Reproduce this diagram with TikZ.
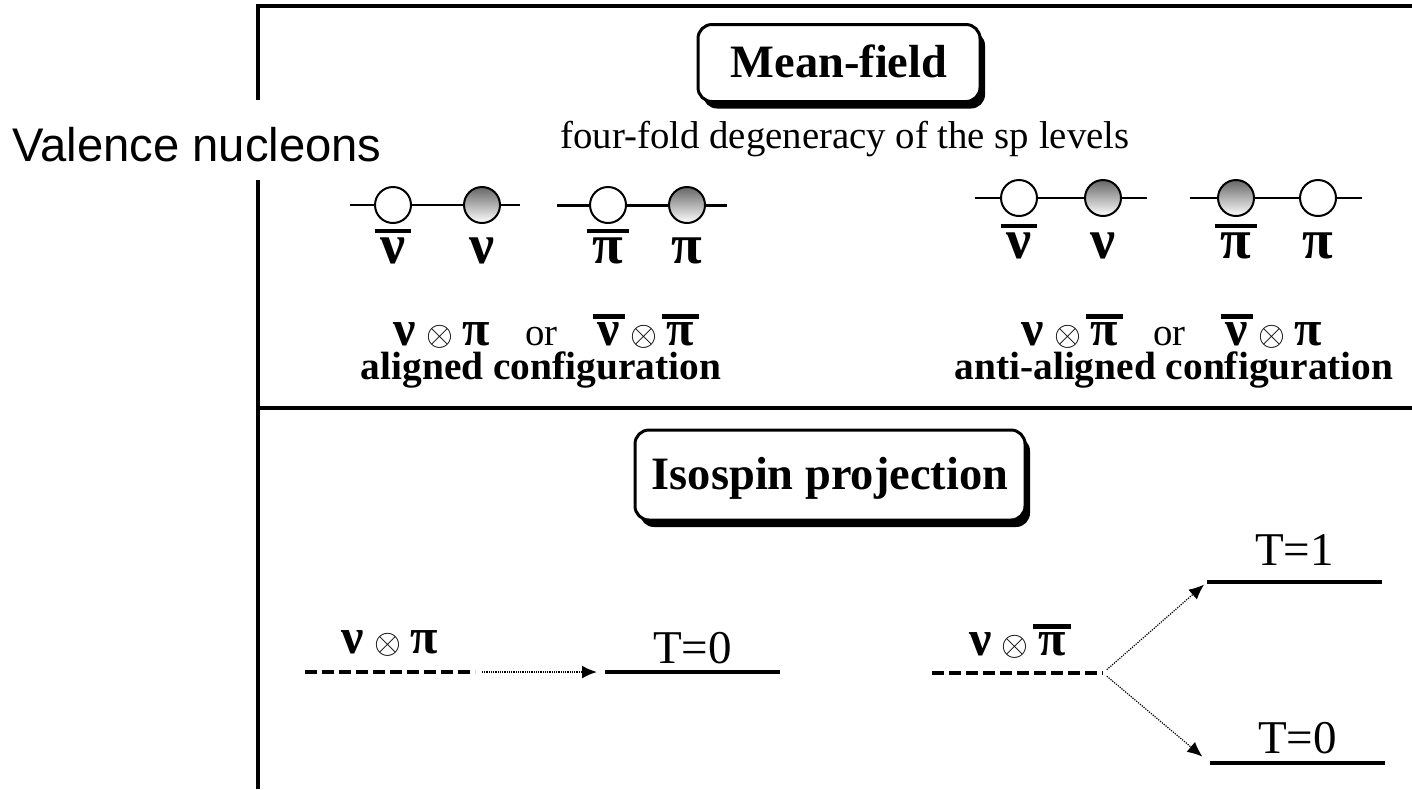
\documentclass[tikz,border=0pt]{standalone}
\usepackage{fontspec}
\setmainfont{Liberation Serif}
\newfontfamily\labelsans{Liberation Sans}
\usetikzlibrary{positioning, arrows.meta, shadows}

\newcommand{\nuch}{\textbf{ν}}
\newcommand{\pich}{\textbf{π}}
\newcommand{\ox}{{\fontsize{19}{22}\selectfont$\otimes$}}
\newcommand{\anti}[1]{\setbox0=\hbox{#1}\leavevmode\rlap{\kern-0.1em\raisebox{\dimexpr\ht0+0.07em\relax}{\rule{\dimexpr\wd0+0.2em\relax}{0.085em}}}\box0}

\tikzset{
  frame/.style={line width=2pt},
  headbox/.style={draw, line width=1.5pt, rounded corners=7pt, fill=white,
    drop shadow={shadow xshift=2.5pt, shadow yshift=-3.5pt, fill=black, opacity=1},
    font=\fontsize{23.2}{28}\selectfont\bfseries, text height=14pt, text depth=0pt},
  note/.style={font=\fontsize{19.4}{23}\selectfont, inner sep=0pt},
  sidelabel/.style={font=\labelsans\fontsize{23.6}{28}\selectfont, inner sep=0pt},
  hole/.style={circle, draw, line width=1pt, fill=white, minimum size=18pt, inner sep=0pt},
  part/.style={hole, top color=black!60, bottom color=white},
  orb/.style={line width=1pt},
  glab/.style={font=\fontsize{28}{32}\selectfont, inner sep=0pt, anchor=base},
  pair/.style={font=\fontsize{25}{29}\selectfont, inner sep=0pt, text depth=0pt},
  conf/.style={font=\fontsize{19.7}{23}\selectfont\bfseries, inner sep=0pt, anchor=base},
  lvl/.style={inner sep=0pt, outer sep=0pt, minimum height=0pt},
  level/.style={line width=2.2pt},
  dashlevel/.style={line width=2.2pt, dash pattern=on 6pt off 2.5pt},
  lvtxt/.style={font=\fontsize{23.5}{28}\selectfont, inner sep=0pt},
  trans/.style={line width=0.6pt, dash pattern=on 0.6pt off 0.6pt, -{Latex[length=7.5pt,width=6.5pt]}}
}

\begin{document}
\begin{tikzpicture}[x=0.5pt, y=-0.5pt]
\useasboundingbox (0,0) rectangle (1412,789);

% frame
\draw[frame] (258,789) -- (258,180);
\draw[frame] (258,100) -- (258,6) -- (1412,6);
\draw[frame] (258,408) -- (1412,408);

\node[sidelabel, anchor=base west] (valence) at (12,161) {Valence nucleons};

% mean-field part
\node[headbox, minimum width=141pt, minimum height=38.5pt] (meanfield) at (839,63) {Mean-field};
\node[note, anchor=base] (degen) at (845,148) {four-fold degeneracy of the sp levels};

% aligned: sp levels
\node[hole] (nubarA) at (393,205) {};
\node[part] (nuA) at (482,205) {};
\coordinate (lA1) at (350,205);
\coordinate (rA1) at (520,205);
\draw[orb, line width=0.9pt] (lA1) -- (nubarA) -- (nuA) -- (rA1);
\node[hole] (pibarA) at (608,205) {};
\node[part] (piA) at (687,205) {};
\coordinate (lA2) at (557,205);
\coordinate (rA2) at (727,205);
\draw[orb, line width=1.5pt] (lA2) -- (pibarA) -- (piA) -- (rA2);

\node[glab] (nubarAl) at ([yshift=-29pt]nubarA.center) {\anti{\nuch}};
\node[glab] (nuAl) at ([yshift=-29pt]nuA.center) {\nuch};
\node[glab] (pibarAl) at ([yshift=-29pt]pibarA.center) {\anti{\pich}};
\node[glab] (piAl) at ([yshift=-29pt]piA.center) {\pich};

% anti-aligned: sp levels
\node[hole] (nubarB) at (1019,198) {};
\node[part] (nuB) at (1103,198) {};
\coordinate (lB1) at (975,198);
\coordinate (rB1) at (1147,198);
\draw[orb] (lB1) -- (nubarB) -- (nuB) -- (rB1);
\node[part] (pibarB) at (1236,198) {};
\node[hole] (piB) at (1318,198) {};
\coordinate (lB2) at (1190,198);
\coordinate (rB2) at (1362,198);
\draw[orb] (lB2) -- (pibarB) -- (piB) -- (rB2);

\node[glab] (nubarBl) at ([yshift=-30pt]nubarB.center) {\anti{\nuch}};
\node[glab] (nuBl) at ([yshift=-30pt]nuB.center) {\nuch};
\node[glab] (pibarBl) at ([yshift=-30pt]pibarB.center) {\anti{\pich}};
\node[glab] (piBl) at ([yshift=-30pt]piB.center) {\pich};

% configurations
\node[pair, anchor=base] (pairA) at (544,345) {\nuch\hspace{0.2em}\ox\hspace{0.2em}\pich\hspace{0.7em}{\fontsize{19.4}{23}\selectfont or}\hspace{0.8em}\anti{\nuch}\hspace{0.2em}\ox\hspace{0.2em}\anti{\pich}};
\node[conf] (confA) at (541,379) {aligned configuration};
\node[pair, anchor=base] (pairB) at (1172,345) {\nuch\hspace{0.2em}\ox\hspace{0.2em}\anti{\pich}\hspace{0.7em}{\fontsize{19.4}{23}\selectfont or}\hspace{0.8em}\anti{\nuch}\hspace{0.2em}\ox\hspace{0.2em}\pich};
\node[conf] (confB) at (1174,379) {anti-aligned configuration};

% isospin projection part
\node[headbox, minimum width=195pt, minimum height=45pt] (isospin) at (830,475) {Isospin projection};

\node[lvl, minimum width=85pt] (lvA) at (390,672) {};
\draw[dashlevel] (lvA.west) -- (lvA.east);
\node[pair, above=9.5pt of lvA, anchor=base] (lvAl) {\nuch\hspace{0.2em}\ox\hspace{0.2em}\pich};
\node[lvl, minimum width=87.5pt] (tzA) at (692.5,672) {};
\draw[level] (tzA.west) -- (tzA.east);
\node[lvtxt, above=4.5pt of tzA, anchor=base] (tzAl) {T=0};
\draw[trans, line width=1pt, dash pattern=on 0.5pt off 0.4pt, shorten <=3.5pt, shorten >=4pt] (lvA.east) -- (tzA.west);

\node[lvl, minimum width=85.5pt] (lvB) at (1017.5,673) {};
\draw[dashlevel] (lvB.west) -- (lvB.east);
\node[pair, above=9pt of lvB, anchor=base] (lvBl) {\nuch\hspace{0.2em}\ox\hspace{0.2em}\anti{\pich}};
\node[lvl, minimum width=87.5pt] (tOne) at (1294.5,582) {};
\draw[level] (tOne.west) -- (tOne.east);
\node[lvtxt, above=8.5pt of tOne, anchor=base] (tOnel) {T=1};
\node[lvl, minimum width=87.5pt] (tZero) at (1297.5,763) {};
\draw[level] (tZero.west) -- (tZero.east);
\node[lvtxt, above=5pt of tZero, anchor=base] (tZerol) {T=0};
\draw[trans, shorten <=2.5pt, shorten >=2pt] (lvB.east) -- (tOne.west);
\draw[trans, shorten <=2.5pt, shorten >=5pt] (lvB.east) -- (tZero.west);

\end{tikzpicture}
\end{document}
